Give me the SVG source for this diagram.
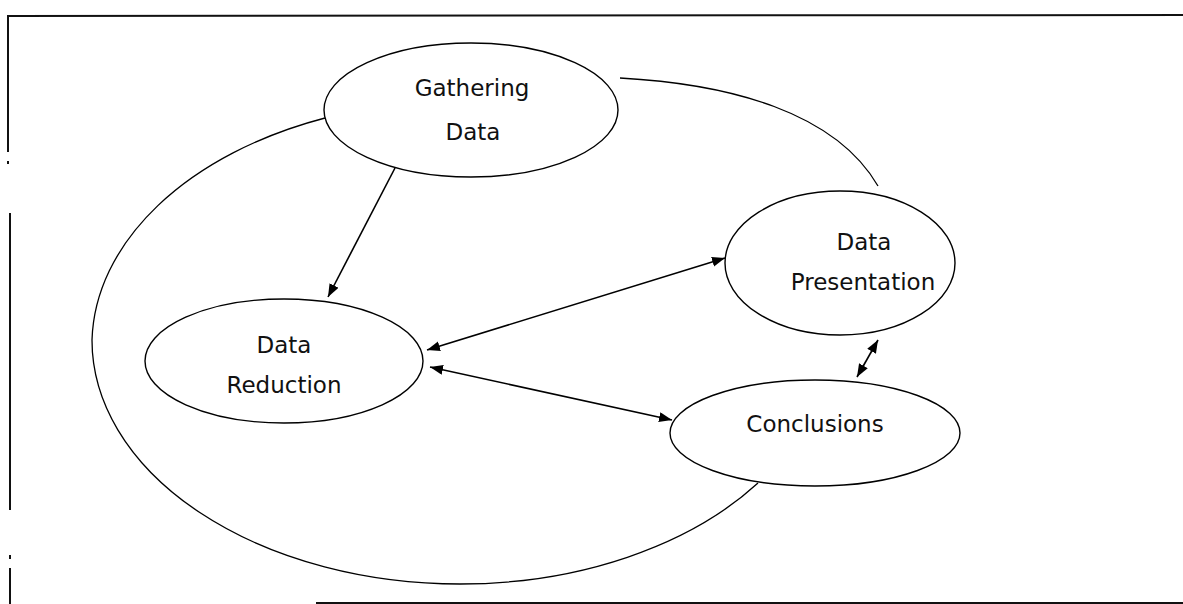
<svg xmlns="http://www.w3.org/2000/svg" width="1183" height="604" viewBox="0 0 1183 604">
  <style>
    .frame { stroke: #111; stroke-width: 2; fill: none; }
    .node { fill: #fff; stroke: #000; stroke-width: 1.4; }
    .arc { fill: none; stroke: #000; stroke-width: 1.3; }
    .conn { fill: none; stroke: #000; stroke-width: 1.6; }
    .lbl { font-family: "DejaVu Sans", "Liberation Sans", sans-serif; font-size: 23px; fill: #111; text-anchor: middle; }
  </style>
  <defs>
    <marker id="ah" markerUnits="userSpaceOnUse" markerWidth="14" markerHeight="11" refX="13" refY="5" orient="auto-start-reverse">
      <path d="M0,0 L13,5 L0,10 z" fill="#000"/>
    </marker>
  </defs>
  <rect width="1183" height="604" fill="#fff"/>

  <g id="frame">
    <path class="frame" d="M8,16 L1183,15"/>
    <path class="frame" d="M8,15 L8,152"/>
    <path class="frame" d="M8,161 L8,164"/>
    <path class="frame" d="M10,213 L10,510"/>
    <path class="frame" d="M10,555 L10,559"/>
    <path class="frame" d="M10,568 L10,604"/>
    <path class="frame" d="M316,603 L1183,603"/>
  </g>

  <g id="cycle">
    <path class="arc" d="M325,118 A368,244 0 0 0 92,340 A368,244 0 0 0 460,584 A368,244 0 0 0 758,483"/>
    <path class="arc" d="M620,78 C730,84 835,112 878,186"/>
  </g>

  <g id="connectors">
    <line class="conn" x1="395" y1="168" x2="328" y2="297" marker-end="url(#ah)"/>
    <line class="conn" x1="427" y1="350" x2="725" y2="258" marker-start="url(#ah)" marker-end="url(#ah)"/>
    <line class="conn" x1="430" y1="367" x2="672" y2="420" marker-start="url(#ah)" marker-end="url(#ah)"/>
    <line class="conn" x1="878" y1="340" x2="857" y2="377" marker-start="url(#ah)" marker-end="url(#ah)"/>
  </g>

  <g id="gathering-data">
    <ellipse class="node" cx="471" cy="110" rx="147" ry="67"/>
    <text class="lbl" x="472" y="96">Gathering</text>
    <text class="lbl" x="473" y="140">Data</text>
  </g>

  <g id="data-presentation">
    <ellipse class="node" cx="840" cy="263" rx="115" ry="72"/>
    <text class="lbl" x="864" y="250">Data</text>
    <text class="lbl" x="863" y="290">Presentation</text>
  </g>

  <g id="data-reduction">
    <ellipse class="node" cx="284" cy="361" rx="139" ry="62"/>
    <text class="lbl" x="284" y="353">Data</text>
    <text class="lbl" x="284" y="393">Reduction</text>
  </g>

  <g id="conclusions">
    <ellipse class="node" cx="815" cy="433" rx="145" ry="53"/>
    <text class="lbl" x="815" y="432">Conclusions</text>
  </g>
</svg>
